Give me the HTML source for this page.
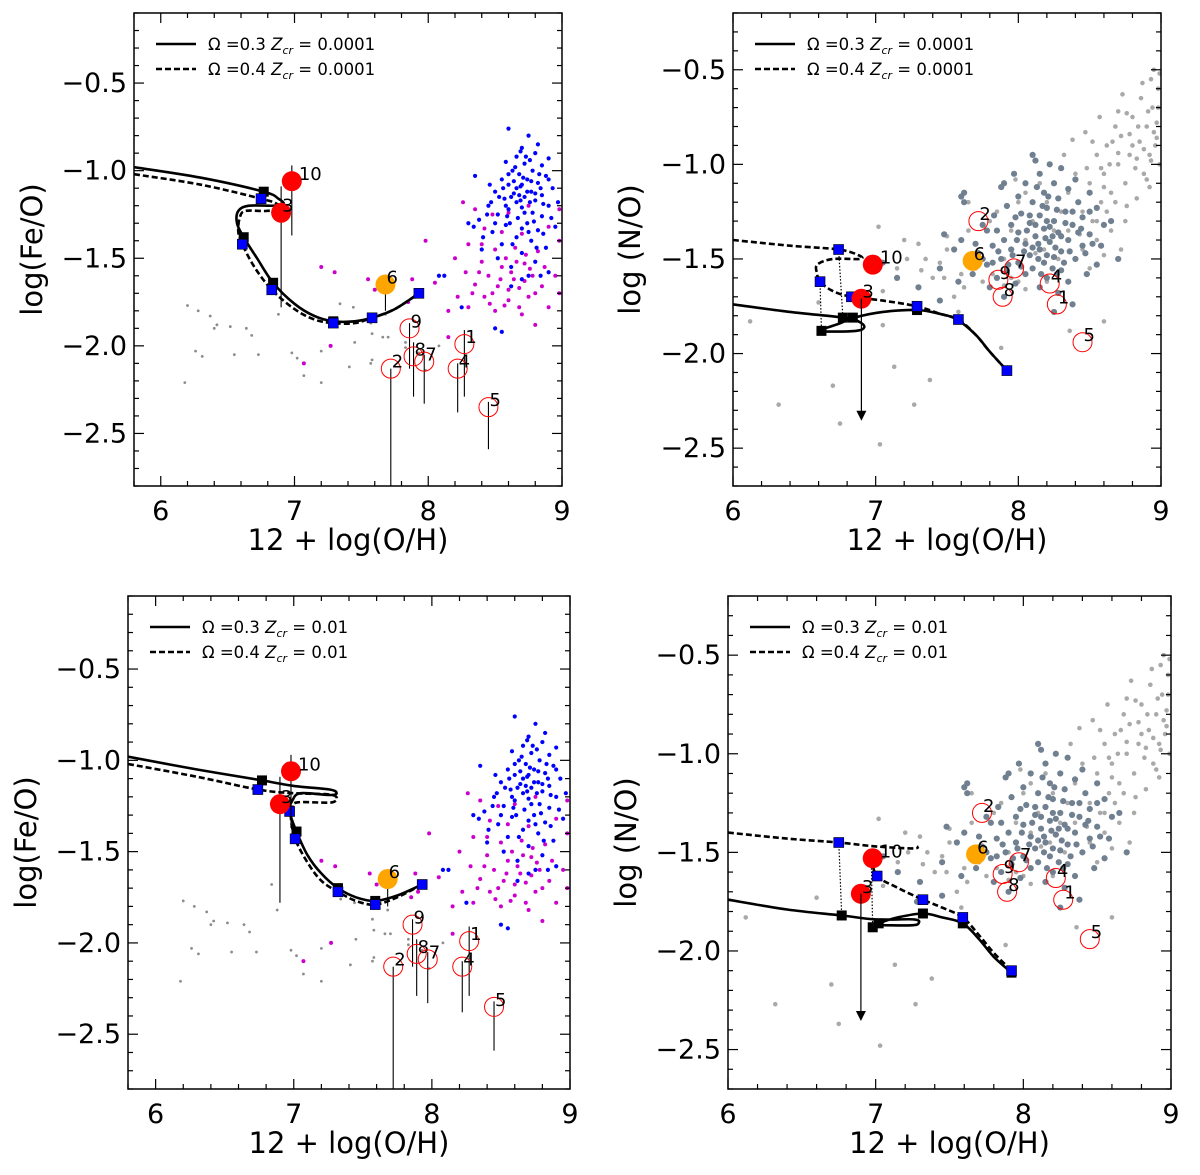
<!DOCTYPE html>
<html><head><meta charset="utf-8">
<style>
html,body{margin:0;padding:0;background:#fff;}
svg{display:block;font-family:"DejaVu Sans","Liberation Sans",sans-serif;}
</style></head>
<body>
<svg id="fig" width="1200" height="1175" viewBox="0 0 1200 1175" xmlns="http://www.w3.org/2000/svg"></svg>
<script>
// ---------- observational data ----------
const obsNames = ["10","3","6","9","8","7","2","1","4","5"];
const obsX     = [6.98,6.90,7.68,7.86,7.89,7.97,7.72,8.27,8.22,8.45];
const feoY     = [-1.06,-1.24,-1.65,-1.90,-2.06,-2.09,-2.13,-1.99,-2.13,-2.35];
const feoHi    = [-0.97,-1.09,-1.62,-1.87,-1.98,-2.05,-2.13,-1.91,-2.10,-2.32];
const feoLo    = [-1.37,-1.78,-1.80,-2.13,-2.29,-2.33,-2.80,-2.29,-2.38,-2.59];
const noY      = [-1.53,-1.71,-1.51,-1.61,-1.70,-1.55,-1.30,-1.74,-1.63,-1.94];
const obsKind  = ["red","red","orange","open","open","open","open","open","open","open"];
const noArrowTo = -2.35;

// ---------- Fe/O comparison samples ----------
const feoBlue = [[8.6,-0.76],[8.75,-0.80],[8.82,-0.85],[8.7,-0.87],[8.8,-0.90],[8.66,-0.92],[8.9,-0.93],[8.58,-0.95],[8.72,-0.96],[8.85,-0.97],[8.63,-1.0],[8.78,-1.0],[8.68,-1.02],[8.88,-1.03],[8.55,-1.05],[8.74,-1.05],[8.82,-1.07],[8.6,-1.08],[8.69,-1.09],[8.93,-1.1],[8.5,-1.12],[8.77,-1.12],[8.64,-1.13],[8.85,-1.14],[8.72,-1.15],[8.57,-1.16],[8.8,-1.17],[8.66,-1.18],[8.45,-1.2],[8.9,-1.2],[8.7,-1.21],[8.6,-1.22],[8.78,-1.24],[8.52,-1.25],[8.85,-1.26],[8.67,-1.27],[8.38,-1.28],[8.74,-1.3],[8.3,-1.3],[8.58,-1.31],[8.95,-1.32],[8.82,-1.34],[8.48,-1.35],[8.66,-1.38],[8.77,-1.4],[8.55,-1.42],[8.88,-1.44],[8.4,-1.45],[8.7,-1.47],[8.8,-1.52],[8.62,-1.55],[8.9,-1.58],[8.75,-1.6],[8.08,-1.6],[8.12,-1.6],[8.25,-1.78],[8.55,-1.92],[8.5,-1.9],[8.35,-1.03],[8.62,-1.66],[8.7,-1.08],[8.76,-1.18],[8.64,-1.06],[8.84,-1.1],[8.58,-1.2],[8.73,-0.92],[8.68,-1.14],[8.79,-1.29],[8.61,-1.3],[8.47,-1.18],[8.71,-1.04],[8.66,-1.1],[8.74,-1.12],[8.62,-1.15],[8.8,-1.13],[8.69,-1.17],[8.56,-1.1],[8.83,-1.02],[8.77,-1.06],[8.65,-0.98],[8.59,-1.26],[8.72,-1.24],[8.86,-1.19],[8.53,-1.15],[8.44,-1.25],[8.34,-1.32],[8.41,-1.38],[8.92,-1.27],[8.86,-1.36],[8.63,-1.42],[8.7,-1.33],[8.52,-1.5],[8.97,-1.18],[8.81,-1.44],[8.76,-0.94],[8.69,-0.89],[8.6,-1.02],[8.9,-1.05],[8.75,-1.35],[8.5,-1.3],[8.7,-1.62],[8.84,-1.6],[8.46,-1.08]];
const feoMag = [[8.26,-1.18],[8.35,-1.22],[8.48,-1.25],[8.6,-1.24],[8.75,-1.2],[8.98,-1.22],[8.42,-1.33],[8.55,-1.35],[8.7,-1.36],[8.9,-1.32],[8.3,-1.42],[8.5,-1.45],[8.65,-1.44],[8.82,-1.46],[8.98,-1.4],[8.2,-1.5],[8.4,-1.52],[8.58,-1.5],[8.72,-1.53],[8.87,-1.55],[8.28,-1.58],[8.45,-1.6],[8.62,-1.58],[8.78,-1.6],[8.95,-1.6],[8.35,-1.65],[8.52,-1.66],[8.68,-1.67],[8.85,-1.66],[8.22,-1.72],[8.42,-1.72],[8.6,-1.74],[8.75,-1.72],[8.3,-1.78],[8.5,-1.8],[8.68,-1.78],[8.15,-1.8],[8.9,-1.78],[8.05,-1.64],[7.98,-1.4],[7.2,-1.55],[7.3,-1.58],[7.55,-1.62],[7.6,-1.68],[7.88,-1.62],[7.9,-1.72],[7.85,-1.75],[8.15,-1.95],[7.07,-2.1],[7.27,-2.0],[8.8,-1.88],[8.7,-1.82],[8.98,-1.7],[8.55,-1.55],[8.4,-1.42],[8.64,-1.62],[8.73,-1.48],[8.48,-1.7],[8.57,-1.77],[8.8,-1.7],[8.66,-1.52],[8.72,-1.63],[8.6,-1.68],[8.76,-1.56],[8.54,-1.62],[8.38,-1.58],[8.33,-1.7],[8.46,-1.76]];
const feoGray = [[6.2,-1.77],[6.28,-1.8],[6.37,-1.83],[6.42,-1.88],[6.4,-1.9],[6.52,-1.89],[6.64,-1.9],[6.68,-1.94],[6.26,-2.03],[6.31,-2.06],[6.55,-2.05],[6.73,-2.05],[6.88,-1.82],[6.98,-2.04],[7.02,-2.07],[7.2,-2.03],[7.07,-2.17],[7.2,-2.21],[7.41,-2.12],[7.45,-1.98],[6.18,-2.21],[7.34,-1.76],[7.44,-1.78],[7.57,-1.87],[7.58,-1.93],[7.66,-1.95],[7.7,-1.95],[7.58,-2.08],[7.57,-2.1],[7.68,-1.82],[7.83,-1.98],[7.83,-2.01],[7.98,-2.14],[8.08,-2.0],[7.93,-2.04],[6.84,-1.68]];

// ---------- N/O comparison samples ----------
const noSlate = [[8.1,-0.95],[8.22,-1.0],[8.3,-1.02],[7.97,-1.05],[8.15,-1.05],[8.4,-1.08],[8.05,-1.1],[8.25,-1.1],[7.88,-1.12],[8.35,-1.13],[8.18,-1.15],[8.5,-1.15],[7.6,-1.17],[8.0,-1.17],[8.28,-1.18],[8.1,-1.2],[8.42,-1.2],[7.92,-1.22],[8.2,-1.23],[8.55,-1.23],[8.33,-1.25],[8.02,-1.26],[8.15,-1.27],[7.83,-1.27],[8.45,-1.28],[8.25,-1.3],[8.08,-1.31],[7.95,-1.32],[8.38,-1.32],[8.6,-1.32],[8.18,-1.34],[7.78,-1.35],[8.28,-1.36],[8.0,-1.36],[8.5,-1.37],[8.12,-1.38],[7.9,-1.4],[8.35,-1.4],[8.22,-1.41],[8.05,-1.42],[7.82,-1.43],[8.45,-1.43],[8.15,-1.45],[7.95,-1.45],[8.3,-1.46],[7.72,-1.47],[8.08,-1.48],[8.25,-1.49],[7.88,-1.5],[8.4,-1.5],[8.0,-1.52],[8.18,-1.52],[7.78,-1.53],[8.55,-1.53],[8.1,-1.55],[7.92,-1.56],[8.3,-1.56],[7.68,-1.58],[8.05,-1.58],[8.2,-1.6],[7.85,-1.6],[8.35,-1.62],[7.98,-1.63],[7.8,-1.65],[8.15,-1.65],[8.28,-1.68],[7.9,-1.7],[7.58,-1.62],[7.45,-1.55],[7.3,-1.65],[7.15,-1.6],[7.05,-1.52],[7.55,-1.45],[7.62,-1.2],[7.62,-1.15],[7.48,-1.37],[7.6,-1.4],[8.65,-1.3],[8.58,-1.43],[8.7,-1.5],[8.48,-1.58],[8.5,-1.25],[7.75,-1.32],[7.7,-1.42],[8.38,-1.74],[8.25,-1.78],[7.9,-1.1],[8.12,-0.98],[7.28,-1.75],[7.45,-1.72],[8.2,-1.3],[8.24,-1.38],[8.14,-1.42],[8.32,-1.52],[8.06,-1.35],[8.2,-1.48],[7.96,-1.48],[8.42,-1.36],[8.17,-1.22],[8.27,-1.24],[8.22,-1.33],[8.12,-1.32],[8.3,-1.38],[8.19,-1.39],[8.1,-1.44],[8.26,-1.44],[8.36,-1.46],[8.04,-1.46],[8.14,-1.5],[8.24,-1.55],[7.99,-1.4],[7.86,-1.46],[8.08,-1.27],[8.38,-1.25],[8.44,-1.34],[8.02,-1.54],[7.93,-1.53],[7.82,-1.52],[7.75,-1.5],[8.16,-1.58],[8.33,-1.31],[8.21,-1.17],[8.13,-1.12],[7.85,-1.35],[8.47,-1.47],[8.52,-1.42],[8.27,-1.58],[7.98,-1.28]];
const noLight = [[7.02,-1.33],[7.05,-1.67],[7.2,-1.4],[7.3,-1.42],[7.22,-1.5],[7.15,-1.55],[7.35,-1.5],[7.5,-1.45],[7.48,-1.6],[7.55,-1.7],[7.5,-1.38],[7.65,-1.35],[7.65,-1.2],[7.72,-1.48],[7.8,-1.3],[7.85,-1.25],[7.95,-1.35],[7.9,-1.5],[8.0,-1.2],[8.05,-1.4],[8.1,-1.3],[8.15,-1.1],[8.2,-1.2],[8.25,-1.35],[8.3,-1.25],[8.35,-1.15],[8.4,-1.05],[8.45,-1.25],[8.5,-1.1],[8.55,-0.95],[8.58,-1.2],[8.6,-1.05],[8.62,-0.9],[8.65,-1.15],[8.68,-0.8],[8.7,-1.0],[8.72,-0.85],[8.75,-1.1],[8.78,-0.95],[8.8,-0.75],[8.82,-1.02],[8.85,-0.88],[8.86,-0.65],[8.88,-1.05],[8.9,-0.8],[8.92,-0.95],[8.94,-0.7],[8.96,-0.9],[8.98,-0.6],[8.99,-1.0],[8.97,-0.78],[8.93,-0.55],[8.87,-0.57],[8.76,-0.73],[8.66,-0.88],[8.57,-0.75],[8.47,-0.83],[8.42,-1.2],[8.35,-1.35],[8.45,-1.45],[8.55,-1.4],[8.65,-1.35],[8.62,-1.25],[8.72,-1.45],[8.28,-1.5],[8.18,-1.45],[8.1,-1.55],[8.2,-1.62],[8.0,-1.62],[7.95,-1.6],[7.75,-1.62],[7.7,-1.55],[7.62,-1.65],[7.58,-1.78],[7.88,-1.97],[8.6,-1.83],[8.36,-1.88],[6.6,-1.73],[6.12,-1.83],[6.32,-2.27],[6.7,-2.17],[7.05,-1.85],[7.13,-2.07],[7.38,-2.14],[7.27,-2.27],[7.03,-2.48],[6.75,-2.37],[8.12,-1.47],[8.05,-1.15],[7.98,-1.08],[8.32,-0.95],[8.38,-0.87],[8.52,-0.88],[8.76,-1.22],[8.83,-1.18],[8.92,-1.12],[8.95,-0.83],[8.73,-0.63],[8.95,-0.5],[8.99,-0.52],[8.8,-0.9],[8.9,-1.08],[8.7,-0.72],[8.84,-0.8],[8.98,-0.7],[8.6,-1.12],[8.52,-1.3],[8.88,-0.92],[8.93,-0.98],[8.97,-0.86],[8.91,-0.72],[8.78,-0.84],[8.83,-0.97],[8.7,-0.94],[8.64,-1.0],[8.58,-1.02],[8.48,-1.02],[8.68,-1.2],[8.75,-1.3],[8.55,-1.3],[8.43,-1.37],[8.6,-1.48],[8.5,-1.55],[7.45,-1.52],[7.4,-1.6],[7.32,-1.56],[7.6,-1.58],[7.82,-1.58],[7.9,-1.64],[8.05,-1.66]];

// ---------- model tracks ----------
const tlSolid = [[5.8,-0.98],[6.3,-1.04],[6.77,-1.12],[6.88,-1.16],[6.92,-1.19],[6.85,-1.2],[6.66,-1.2],[6.58,-1.23],[6.57,-1.3],[6.62,-1.38],[6.72,-1.5],[6.84,-1.64],[7.0,-1.76],[7.15,-1.83],[7.29,-1.86],[7.45,-1.86],[7.58,-1.84],[7.75,-1.79],[7.93,-1.70]];
const tlDash  = [[5.8,-1.02],[6.3,-1.08],[6.75,-1.16],[6.87,-1.19],[6.88,-1.22],[6.78,-1.23],[6.63,-1.23],[6.59,-1.27],[6.58,-1.35],[6.61,-1.42],[6.7,-1.55],[6.83,-1.68],[7.0,-1.79],[7.15,-1.85],[7.29,-1.87],[7.45,-1.87],[7.58,-1.84],[7.75,-1.79],[7.93,-1.70]];
const tlBlack = [[6.77,-1.12],[6.62,-1.38],[6.84,-1.64],[7.29,-1.86]];
const tlBlue  = [[6.75,-1.16],[6.61,-1.42],[6.83,-1.68],[7.29,-1.87],[7.58,-1.84],[7.93,-1.70]];

const blSolid = [[5.8,-0.98],[6.3,-1.05],[6.77,-1.11],[7.0,-1.14],[7.26,-1.16],[7.31,-1.18],[7.26,-1.19],[7.05,-1.18],[6.99,-1.22],[6.97,-1.28],[7.02,-1.39],[7.1,-1.52],[7.2,-1.62],[7.32,-1.70],[7.45,-1.75],[7.59,-1.77],[7.75,-1.74],[7.93,-1.68]];
const blDash  = [[5.8,-1.02],[6.3,-1.09],[6.74,-1.16],[7.0,-1.18],[7.28,-1.19],[7.28,-1.23],[7.03,-1.23],[6.99,-1.26],[6.98,-1.32],[7.01,-1.43],[7.1,-1.56],[7.2,-1.66],[7.32,-1.72],[7.45,-1.77],[7.59,-1.79],[7.75,-1.75],[7.93,-1.68]];
const blBlack = [[6.77,-1.11],[7.02,-1.39],[7.32,-1.70],[7.59,-1.77]];
const blBlue  = [[6.74,-1.16],[6.97,-1.28],[7.01,-1.43],[7.32,-1.72],[7.59,-1.79],[7.93,-1.68]];

const trSolid = [[6.0,-1.74],[6.4,-1.78],[6.77,-1.81],[6.88,-1.83],[6.92,-1.86],[6.86,-1.88],[6.62,-1.88],[6.75,-1.84],[6.85,-1.81],[7.05,-1.78],[7.29,-1.77],[7.45,-1.79],[7.57,-1.82],[7.7,-1.9],[7.8,-1.99],[7.92,-2.09]];
const trDash  = [[6.0,-1.40],[6.4,-1.43],[6.74,-1.45],[6.88,-1.48],[6.89,-1.50],[6.7,-1.50],[6.59,-1.53],[6.59,-1.58],[6.61,-1.62],[6.7,-1.67],[6.83,-1.70],[7.05,-1.72],[7.29,-1.75],[7.45,-1.79],[7.58,-1.82],[7.7,-1.9],[7.8,-1.99],[7.92,-2.09]];
const trBlack = [[6.62,-1.88],[6.77,-1.81],[6.84,-1.81],[7.29,-1.77]];
const trBlue  = [[6.74,-1.45],[6.61,-1.62],[6.83,-1.70],[7.29,-1.75],[7.58,-1.82],[7.92,-2.09]];
const trLinks = [[[6.61,-1.62],[6.62,-1.88]],[[6.74,-1.45],[6.77,-1.81]]];

const brSolid = [[6.0,-1.74],[6.4,-1.79],[6.77,-1.82],[7.0,-1.84],[7.26,-1.84],[7.29,-1.86],[7.24,-1.87],[7.0,-1.87],[6.98,-1.88],[7.02,-1.86],[7.15,-1.83],[7.32,-1.81],[7.45,-1.83],[7.59,-1.86],[7.7,-1.94],[7.8,-2.03],[7.92,-2.11]];
const brDash1 = [[6.0,-1.40],[6.4,-1.43],[6.75,-1.45],[7.0,-1.47],[7.25,-1.48],[7.29,-1.47]];
const brDash2 = [[6.97,-1.53],[7.01,-1.62],[7.15,-1.68],[7.32,-1.74],[7.45,-1.78],[7.59,-1.83],[7.7,-1.92],[7.8,-2.01],[7.92,-2.10]];
const brBlack = [[6.77,-1.82],[6.98,-1.88],[7.02,-1.86],[7.32,-1.81],[7.59,-1.86],[7.92,-2.11]];
const brBlue  = [[6.75,-1.45],[6.97,-1.53],[7.01,-1.62],[7.32,-1.74],[7.59,-1.83],[7.92,-2.10]];
const brLinks = [[[6.75,-1.45],[6.77,-1.82]],[[6.97,-1.53],[6.98,-1.88]]];

const xTicks = [6,7,8,9];
const feoTicks = [-0.5,-1.0,-1.5,-2.0,-2.5];
const noTicks = [-0.5,-1.0,-1.5,-2.0,-2.5];

// ---------- rendering ----------
const NS = "http://www.w3.org/2000/svg";
const fig = document.getElementById("fig");
function mk(tag, attrs, parent){
  const e = document.createElementNS(NS, tag);
  for (const k in attrs) e.setAttribute(k, attrs[k]);
  (parent||fig).appendChild(e);
  return e;
}
function fmt(v){ return (v<0?"\u2212":"") + Math.abs(v).toFixed(1); }

function panel(cfg){
  const g = mk("g", {});
  
  
  const sx = v => cfg.L + (v - cfg.x0) / (cfg.x1 - cfg.x0) * (cfg.R - cfg.L);
  const sy = v => cfg.T + (cfg.y1 - v) / (cfg.y1 - cfg.y0) * (cfg.B - cfg.T);
  const clipId = cfg.name + "-clip";
  const cp = mk("clipPath", {id: clipId}, g);
  mk("rect", {x: cfg.L, y: cfg.T, width: cfg.R-cfg.L, height: cfg.B-cfg.T}, cp);
  const plot = mk("g", {"clip-path": "url(#"+clipId+")"}, g);
  
  

  cfg.scatters.forEach(s => {
    const sg = mk("g", {fill: s.color}, plot);
    
    
    s.data.forEach(p => {
      const c = mk("circle", {cx: sx(p[0]), cy: sy(p[1]), r: s.r}, sg);
      
      
    });
  });

  const path = pts => pts.map((p,i)=>(i?"L":"M")+sx(p[0]).toFixed(1)+","+sy(p[1]).toFixed(1)).join(" ");
  // Catmull-Rom smoothing
  const smooth = pts => {
    const P = pts.map(p => [sx(p[0]), sy(p[1])]);
    let d = "M" + P[0][0].toFixed(1) + "," + P[0][1].toFixed(1);
    for (let i = 0; i < P.length-1; i++) {
      const p0 = P[Math.max(0,i-1)], p1 = P[i], p2 = P[i+1], p3 = P[Math.min(P.length-1,i+2)];
      const c1 = [p1[0]+(p2[0]-p0[0])/6, p1[1]+(p2[1]-p0[1])/6];
      const c2 = [p2[0]-(p3[0]-p1[0])/6, p2[1]-(p3[1]-p1[1])/6];
      d += ` C${c1[0].toFixed(1)},${c1[1].toFixed(1)} ${c2[0].toFixed(1)},${c2[1].toFixed(1)} ${p2[0].toFixed(1)},${p2[1].toFixed(1)}`;
    }
    return d;
  };
  (cfg.links||[]).forEach(l => {
    const ln = mk("path", {d: path(l), stroke:"#000", "stroke-width":1.2, "stroke-dasharray":"1.5,1.8", fill:"none"}, plot);
    
    
  });
  cfg.dash.forEach(d => {
    const dl = mk("path", {d: smooth(d), stroke:"#000", "stroke-width":2.6, "stroke-dasharray":"6,3", fill:"none"}, plot);
    
    
  });
  const sl = mk("path", {d: smooth(cfg.solid), stroke:"#000", "stroke-width":2.6, fill:"none"}, plot);
  
  
  cfg.black.forEach(p => {
    const q = mk("rect", {x: sx(p[0])-5, y: sy(p[1])-5, width:10, height:10, fill:"#000"}, plot);
    
    
  });
  cfg.blue.forEach(p => {
    const q = mk("rect", {x: sx(p[0])-5, y: sy(p[1])-5, width:10, height:10, fill:"#0000ff", stroke:"#000", "stroke-width":0.6}, plot);
    
    
  });

  obsNames.forEach((nm, i) => {
    const cx = sx(obsX[i]), cy = sy(cfg.obsY[i]);
    if (cfg.errors) {
      const eb = mk("line", {x1: cx, x2: cx, y1: sy(feoHi[i]), y2: sy(feoLo[i]), stroke:"#000", "stroke-width":1.1}, plot);
      
      
    }
    let m;
    if (obsKind[i] === "open") m = mk("circle", {cx, cy, r:9.5, fill:"none", stroke:"#ff0000", "stroke-width":1}, plot);
    else m = mk("circle", {cx, cy, r:10, fill: obsKind[i]==="red" ? "#ff0000" : "#ffa500"}, plot);
    
    
    const t = mk("text", {x: cx + (nm==="10"?7:1), y: cy - 1, "font-size":18, fill:"#000"}, plot);
    t.textContent = nm;
    
    
  });
  if (cfg.arrow) {
    const i = 1;
    const cx = sx(obsX[i]);
    const al = mk("line", {x1: cx, x2: cx, y1: sy(cfg.obsY[i]), y2: sy(noArrowTo)-2, stroke:"#000", "stroke-width":1.2}, plot);
    
    
    const ah = mk("path", {d: `M${cx-5},${sy(noArrowTo)-9} L${cx+5},${sy(noArrowTo)-9} L${cx},${sy(noArrowTo)+1} Z`, fill:"#000"}, plot);
    
    
  }

  const fr = mk("rect", {x: cfg.L, y: cfg.T, width: cfg.R-cfg.L, height: cfg.B-cfg.T, fill:"none", stroke:"#000", "stroke-width":1.5}, g);
  
  

  const tg = mk("g", {stroke:"#000", "stroke-width":1.2}, g);
  
  
  for (let k = Math.ceil(cfg.x0*5-1e-6); k <= Math.floor(cfg.x1*5+1e-6); k++) {
    const v = k/5, x = sx(v), major = Math.abs(v - Math.round(v)) < 1e-6, len = major ? 10 : 5;
    mk("line", {x1:x, x2:x, y1:cfg.B, y2:cfg.B-len}, tg);
    mk("line", {x1:x, x2:x, y1:cfg.T, y2:cfg.T+len}, tg);
  }
  for (let k = Math.ceil(cfg.y0*10-1e-6); k <= Math.floor(cfg.y1*10+1e-6); k++) {
    const v = k/10, y = sy(v), major = Math.abs(v*2 - Math.round(v*2)) < 1e-6, len = major ? 10 : 5;
    mk("line", {x1:cfg.L, x2:cfg.L+len, y1:y, y2:y}, tg);
    mk("line", {x1:cfg.R, x2:cfg.R-len, y1:y, y2:y}, tg);
  }
  xTicks.forEach(v => {
    const t = mk("text", {x: sx(v), y: cfg.B + 34, "font-size":27, "text-anchor":"middle", fill:"#000"}, g);
    t.textContent = String(v);
    
    
  });
  cfg.yTicks.forEach(v => {
    const t = mk("text", {x: cfg.L - 7, y: sy(v) + 9, "font-size":27, "text-anchor":"end", fill:"#000"}, g);
    t.textContent = fmt(v);
    
    
  });
  const xt = mk("text", {x: (cfg.L+cfg.R)/2, y: cfg.B + 64, "font-size":29, "text-anchor":"middle", fill:"#000"}, g);
  xt.textContent = "12 + log(O/H)";
  
  
  const yx = cfg.ytitleX, yy = (cfg.T+cfg.B)/2;
  const yt = mk("text", {x: yx, y: yy, "font-size":29, "text-anchor":"middle", transform:`rotate(-90 ${yx} ${yy})`, fill:"#000"}, g);
  yt.textContent = cfg.ytitle;
  
  

  const lg = mk("g", {}, g);
  
  
  [["0.3",""],["0.4","6,3"]].forEach((e, j) => {
    const ly = cfg.T + 31 + j*25;
    const ln = mk("line", {x1: cfg.L+22, x2: cfg.L+62, y1: ly, y2: ly, stroke:"#000", "stroke-width":2.6, "stroke-dasharray": e[1] || "none"}, lg);
    
    
    const t = mk("text", {x: cfg.L+74, y: ly + 6, "font-size":16.5, fill:"#000"}, lg);
    
    
    const a = mk("tspan", {}, t); a.textContent = "\u03A9 =" + e[0] + " ";
    const b = mk("tspan", {"font-style":"italic"}, t); b.textContent = "Z";
    const c = mk("tspan", {"font-style":"italic", "font-size":11, dy:4}, t); c.textContent = "cr";
    const d = mk("tspan", {dy:-4}, t); d.textContent = " = " + cfg.zcr;
  });
}

const feoScatter = [
  {name:"fe-o-gray-sample", data: feoGray, color:"#8c8c8c", r:1.4},
  {name:"fe-o-magenta-sample", data: feoMag, color:"#cc00cc", r:2},
  {name:"fe-o-blue-sample", data: feoBlue, color:"#0000ff", r:2.1}
];
const noScatter = [
  {name:"n-o-light-sample", data: noLight, color:"#a9a9a9", r:2.3},
  {name:"n-o-slate-sample", data: noSlate, color:"#708090", r:3.1}
];

panel({name:"panel-fe-o-zcr-0.0001", L:134, R:562, T:13, B:486, x0:5.8, x1:9, y0:-2.8, y1:-0.1,
  yTicks: feoTicks, ytitle:"log(Fe/O)", ytitleX:42, zcr:"0.0001", scatters: feoScatter,
  solid: tlSolid, dash:[tlDash], black: tlBlack, blue: tlBlue, obsY: feoY, errors:true});
panel({name:"panel-n-o-zcr-0.0001", L:733, R:1161, T:13, B:486, x0:6, x1:9, y0:-2.7, y1:-0.2,
  yTicks: noTicks, ytitle:"log (N/O)", ytitleX:640, zcr:"0.0001", scatters: noScatter,
  solid: trSolid, dash:[trDash], black: trBlack, blue: trBlue, links: trLinks, obsY: noY, arrow:true});
panel({name:"panel-fe-o-zcr-0.01", L:128, R:570, T:596, B:1089, x0:5.8, x1:9, y0:-2.8, y1:-0.1,
  yTicks: feoTicks, ytitle:"log(Fe/O)", ytitleX:36, zcr:"0.01", scatters: feoScatter,
  solid: blSolid, dash:[blDash], black: blBlack, blue: blBlue, obsY: feoY, errors:true});
panel({name:"panel-n-o-zcr-0.01", L:728, R:1171, T:596, B:1089, x0:6, x1:9, y0:-2.7, y1:-0.2,
  yTicks: noTicks, ytitle:"log (N/O)", ytitleX:636, zcr:"0.01", scatters: noScatter,
  solid: brSolid, dash:[brDash1, brDash2], black: brBlack, blue: brBlue, links: brLinks, obsY: noY, arrow:true});
</script>
</body></html>
